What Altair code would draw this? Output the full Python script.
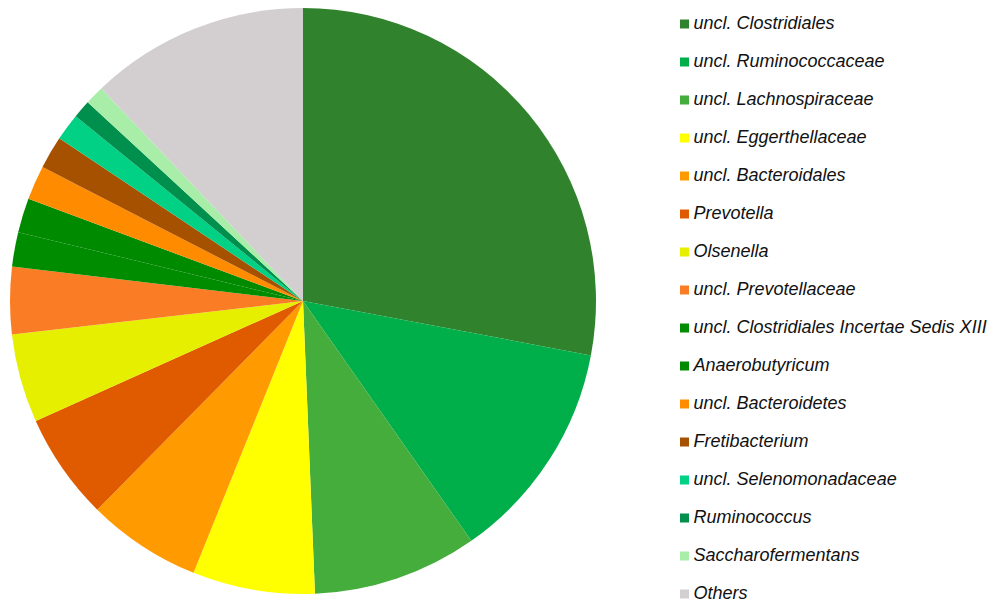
import altair as alt
import pandas as pd

taxa = [
    "uncl. Clostridiales",
    "uncl. Ruminococcaceae",
    "uncl. Lachnospiraceae",
    "uncl. Eggerthellaceae",
    "uncl. Bacteroidales",
    "Prevotella",
    "Olsenella",
    "uncl. Prevotellaceae",
    "uncl. Clostridiales Incertae Sedis XIII",
    "Anaerobutyricum",
    "uncl. Bacteroidetes",
    "Fretibacterium",
    "uncl. Selenomonadaceae",
    "Ruminococcus",
    "Saccharofermentans",
    "Others",
]
share = [28.0, 12.3, 9.1, 6.75, 6.3, 5.9, 4.9, 3.7, 1.9, 1.9, 1.9, 1.8, 1.5, 1.0, 1.05, 12.1]
colors = [
    "#30832c", "#00ae4a", "#45ad3b", "#ffff00", "#ff9a00", "#e05a00",
    "#e6ef00", "#fa7d25", "#008c00", "#008a00", "#ff8c00", "#a65100",
    "#00d184", "#008f4c", "#a8eea8", "#d3cfd1",
]

df = pd.DataFrame({"taxon": taxa, "share": share, "idx": list(range(len(taxa)))})

chart = (
    alt.Chart(df)
    .mark_arc(radius=293)
    .encode(
        theta=alt.Theta("share:Q", stack=True),
        order=alt.Order("idx:Q", sort="ascending"),
        x=alt.value(303),
        y=alt.value(301),
        color=alt.Color(
            "taxon:N",
            scale=alt.Scale(domain=taxa, range=colors),
            sort=taxa,
            legend=alt.Legend(
                title=None,
                orient="none",
                legendX=675.5,
                legendY=15,
                padding=0,
                symbolType="square",
                symbolSize=81,
                symbolStrokeWidth=0,
                labelFont="Liberation Sans",
                labelFontStyle="italic",
                labelFontSize=18,
                labelColor="#111111",
                labelOffset=0,
                labelLimit=400,
                rowPadding=20,
            ),
        ),
    )
    .properties(width=990, height=603, padding=0, autosize=alt.AutoSizeParams(type="none"))
    .configure_view(stroke=None)
)

chart.save("out.html", embed_options={"renderer": "svg", "actions": False})
